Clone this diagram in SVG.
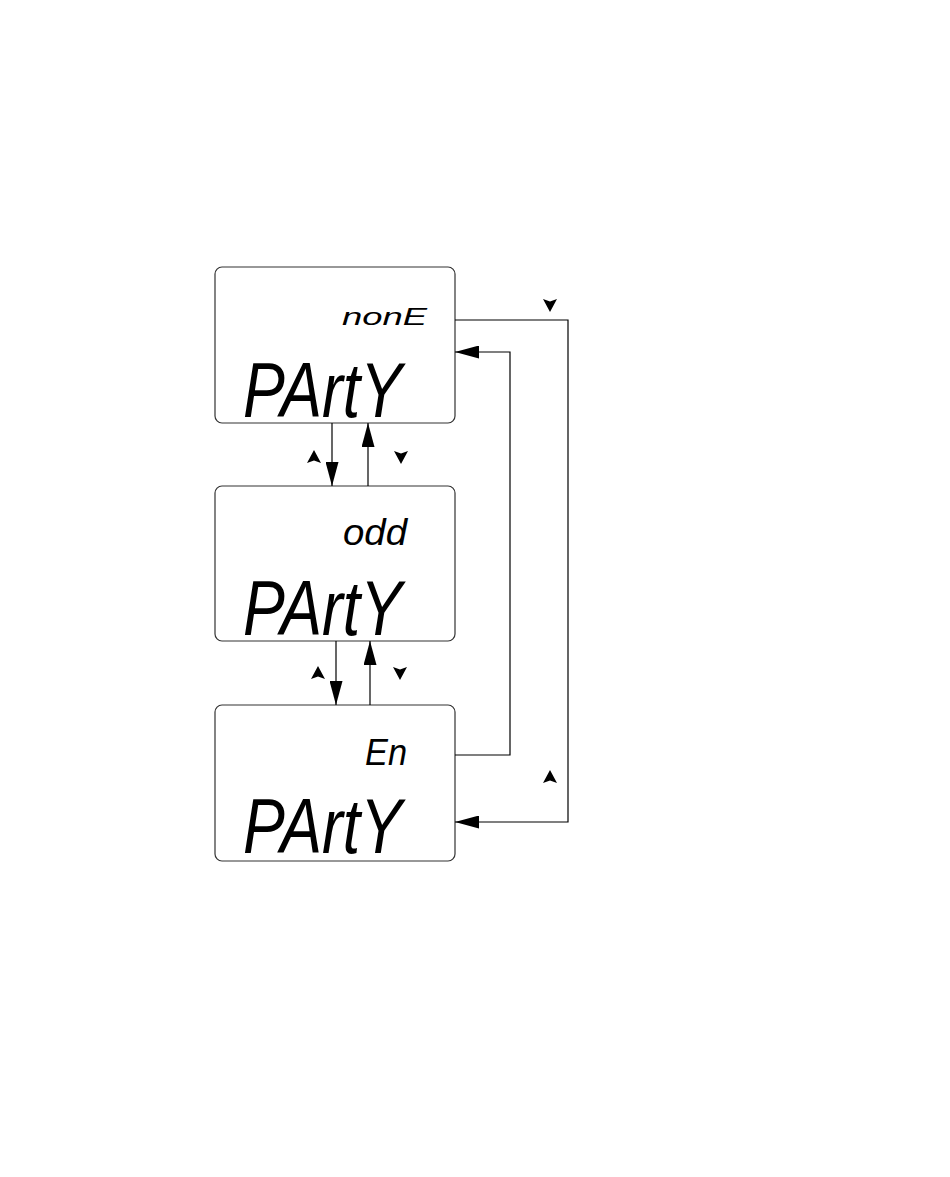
<svg xmlns="http://www.w3.org/2000/svg" width="950" height="1177" viewBox="0 0 950 1177">
<style>
.box{fill:#fff;stroke:#333;stroke-width:1.2}
.big{font-family:"Liberation Sans",sans-serif;font-size:77px;font-style:italic;fill:#000}
.small{font-family:"Liberation Sans",sans-serif;font-style:italic;fill:#000}
.ln{fill:none;stroke:#000;stroke-width:1.2}
.key{fill:#000}
</style>
<defs>
<marker id="ah" markerUnits="userSpaceOnUse" markerWidth="25" markerHeight="13" refX="24" refY="6.5" orient="auto">
<path d="M0,0 L24,6.5 L0,13 Z" fill="#000"/>
</marker>
<path id="up" d="M0,-7 L7,6 L0,3.5 L-7,6 Z"/>
<path id="dn" d="M0,7 L7,-6 L0,-3.5 L-7,-6 Z"/>
</defs>
<rect width="950" height="1177" fill="#fff"/>
<g id="node-none">
<rect class="box" x="215" y="267" width="240" height="156" rx="7"/>
<text class="small" x="342" y="325" font-size="24" textLength="85" lengthAdjust="spacingAndGlyphs">nonE</text>
<text class="big" x="243" y="417" textLength="159" lengthAdjust="spacingAndGlyphs">PArtY</text>
</g>
<g id="node-odd">
<rect class="box" x="215" y="486" width="240" height="155" rx="7"/>
<text class="small" x="343" y="545" font-size="37" textLength="64" lengthAdjust="spacingAndGlyphs">odd</text>
<text class="big" x="243" y="635" textLength="159" lengthAdjust="spacingAndGlyphs">PArtY</text>
</g>
<g id="node-en">
<rect class="box" x="215" y="705" width="240" height="156" rx="7"/>
<text class="small" x="365" y="765" font-size="37" textLength="42" lengthAdjust="spacingAndGlyphs">En</text>
<text class="big" x="243" y="853" textLength="159" lengthAdjust="spacingAndGlyphs">PArtY</text>
</g>
<g id="connectors">
<line class="ln" x1="332" y1="423" x2="332" y2="486" marker-end="url(#ah)"/>
<line class="ln" x1="368" y1="486" x2="368" y2="423" marker-end="url(#ah)"/>
<line class="ln" x1="336" y1="641" x2="336" y2="705" marker-end="url(#ah)"/>
<line class="ln" x1="370" y1="705" x2="370" y2="641" marker-end="url(#ah)"/>
<polyline class="ln" points="455,320 568,320 568,822 455,822" marker-end="url(#ah)"/>
<polyline class="ln" points="455,755 510,755 510,352 455,352" marker-end="url(#ah)"/>
<use href="#up" class="key" x="314" y="457"/>
<use href="#dn" class="key" x="401" y="457"/>
<use href="#up" class="key" x="318" y="673"/>
<use href="#dn" class="key" x="400" y="673"/>
<use href="#dn" class="key" x="550" y="305"/>
<use href="#up" class="key" x="550" y="777"/>
</g>
</svg>
